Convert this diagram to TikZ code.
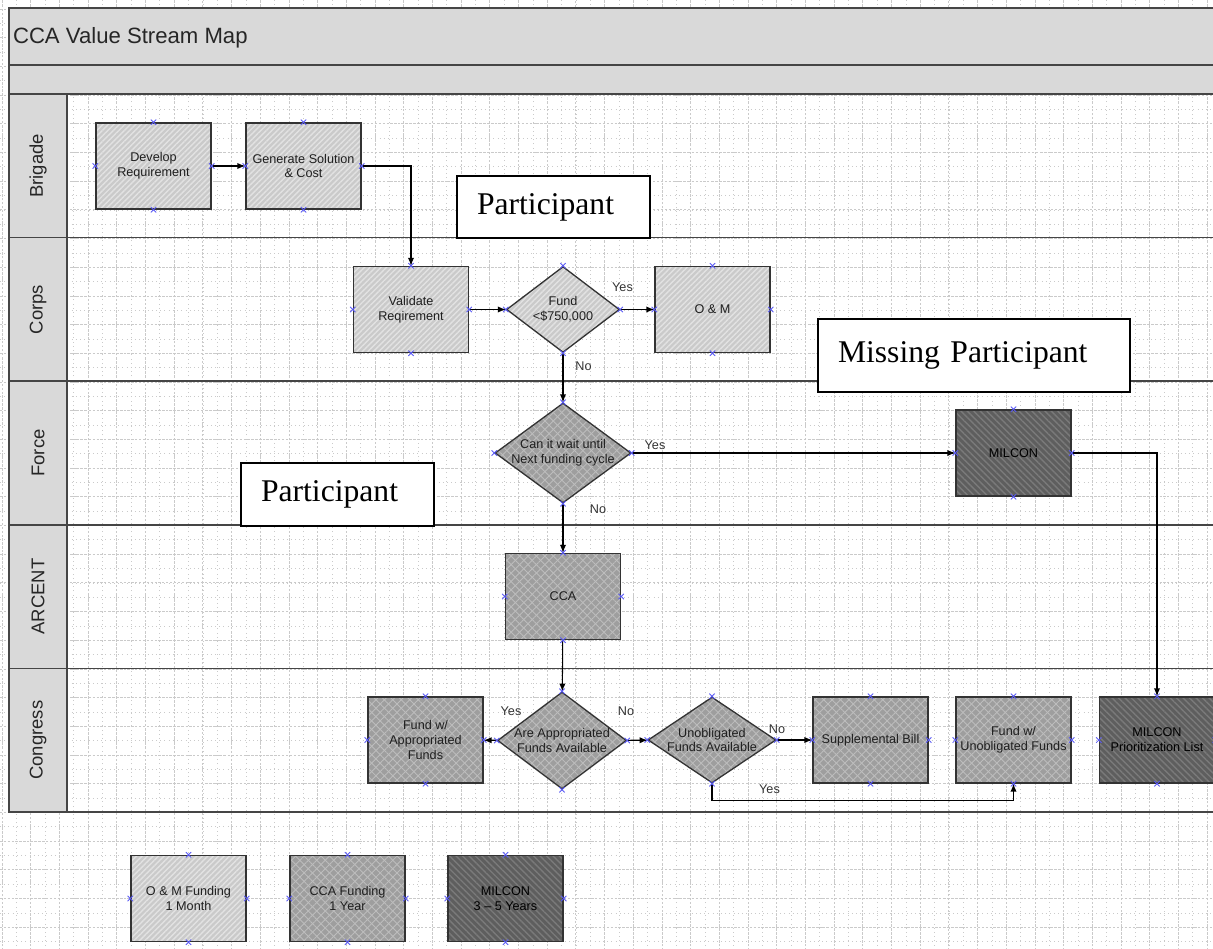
\documentclass[tikz,border=0pt]{standalone}
\usepackage{fontspec}
\setmainfont{Liberation Serif}
\setsansfont{Liberation Sans}
\usepackage{xcolor}
\usepackage{tikz}
\usetikzlibrary{arrows,arrows.meta,shapes,patterns,patterns.meta}
\definecolor{bandgray}{HTML}{D9D9D9}
\definecolor{lanegray}{HTML}{454545}
\definecolor{gridgray}{HTML}{CACACA}
\definecolor{lightfill}{HTML}{CACACA}
\definecolor{lighthatch}{HTML}{E2E2E2}
\definecolor{midfill}{HTML}{9E9E9E}
\definecolor{midhatch}{HTML}{BDBDBD}
\definecolor{darkfill}{HTML}{5E5E5E}
\definecolor{darkhatch}{HTML}{7A7A7A}
\definecolor{xblue}{HTML}{5A5AF5}
\tikzstyle{minorgrid}=[draw=gridgray, line width=0.4pt, dotted, step=0.287cm]
\tikzstyle{majorgrid}=[draw=gridgray, line width=0.5pt, dash pattern=on 1.2pt off 1pt, step=0.574cm]
\tikzstyle{lane}=[draw=lanegray, line width=0.85pt]
\tikzstyle{lanename}=[rotate=90, inner sep=0pt, text=black!85, font=\sffamily\fontsize{10.5}{12}\selectfont]
\tikzstyle{title}=[anchor=base west, inner sep=0pt, text=black!85, font=\sffamily\fontsize{12.6}{15}\selectfont]
\tikzstyle{vsd}=[draw=black!80, line width=0.75pt, text=black!88, font=\sffamily\fontsize{7.2}{8.5}\selectfont, align=center, inner sep=1pt]
\tikzstyle{omblk}=[vsd, rectangle, minimum width=2.3cm, minimum height=1.72cm,% light: O & M
preaction={fill=lightfill},
preaction={pattern={Lines[angle=45,distance=2.2pt,line width=0.8pt]}, pattern color=lighthatch}]
\tikzstyle{ccablk}=[vsd, rectangle, minimum width=2.3cm, minimum height=1.72cm,% medium: CCA
preaction={fill=midfill},
preaction={pattern={Lines[angle=45,distance=3.4pt,line width=0.5pt]}, pattern color=midhatch},
preaction={pattern={Lines[angle=-45,distance=3.4pt,line width=0.5pt]}, pattern color=midhatch}]
\tikzstyle{milblk}=[vsd, rectangle, text=black, minimum width=2.3cm, minimum height=1.72cm,% dark: MILCON
preaction={fill=darkfill},
preaction={pattern={Lines[angle=-45,distance=2.6pt,line width=0.8pt]}, pattern color=darkhatch}]
\tikzstyle{omdec}=[vsd, diamond, inner sep=0pt,
preaction={fill=lightfill},
preaction={pattern={Lines[angle=45,distance=2.2pt,line width=0.8pt]}, pattern color=lighthatch}]
\tikzstyle{ccadec}=[vsd, diamond, inner sep=0pt,
preaction={fill=midfill},
preaction={pattern={Lines[angle=45,distance=3.4pt,line width=0.5pt]}, pattern color=midhatch},
preaction={pattern={Lines[angle=-45,distance=3.4pt,line width=0.5pt]}, pattern color=midhatch}]
\tikzstyle{dectext}=[inner sep=0pt, text=black!88, align=center, font=\sffamily\fontsize{7.2}{8.5}\selectfont]
\tikzstyle{elabel}=[inner sep=0pt, text=black!80, font=\sffamily\fontsize{7.2}{8.5}\selectfont]
\tikzstyle{ptext}=[draw=black, line width=1.1pt, fill=white, inner xsep=0.4cm, align=left, font=\fontsize{18}{21}\selectfont]
\tikzstyle{xmk}=[cross out, draw=xblue, line width=0.5pt, minimum size=0.09cm, inner sep=0pt]
\newcommand{\conpts}[1]{%
\node[xmk] (#1-n) at (#1.north) {};
\node[xmk] (#1-s) at (#1.south) {};
\node[xmk] (#1-e) at (#1.east) {};
\node[xmk] (#1-w) at (#1.west) {};}

\begin{document}
\begin{tikzpicture}[x=0.02cm, y=-0.02cm, line width=0.6pt]
\useasboundingbox (0,0) rectangle (1213,949);
% grid paper
\begin{scope}[shift={(2,9)}]
\draw[minorgrid] (-2,-9) grid (1213,949);
\draw[majorgrid] (-2,-9) grid (1213,949);
\end{scope}
% pool and lanes
\draw[lane, fill=bandgray] (9,8) rectangle (1222,65);
\draw[lane, fill=bandgray] (9,65) rectangle (1222,94);
\draw[lane, fill=bandgray] (9,94) rectangle (67,812);
\draw[lane] (67,94) rectangle (1222,812);
\draw[lane] (9,237.6) -- (1222,237.6);
\draw[lane] (9,381.2) -- (1222,381.2);
\draw[lane] (9,524.8) -- (1222,524.8);
\draw[lane] (9,668.4) -- (1222,668.4);
\node[title] (title) at (12.5,43.3) {CCA Value Stream Map};
\node[lanename] (brigade) at (38,165.8) {Brigade};
\node[lanename] (corps) at (38,309.4) {Corps};
\node[lanename] (force) at (38,453) {Force};
\node[lanename] (arcent) at (38,596.6) {ARCENT};
\node[lanename] (congress) at (38,740.2) {Congress};
% Brigade
\node[omblk] (dev) at (153.5,166) {Develop\\Requirement};
\node[omblk] (gen) at (303.5,166) {Generate Solution\\\& Cost};
% Corps
\node[omblk] (val) at (411,309.5) {Validate\\Reqirement};
\node[omdec, minimum width=2.26cm, minimum height=1.72cm,
  label={[dectext]center:{Fund\\<\$750,000}}] (fund) at (563,309.5) {};
\node[omblk] (om) at (712.5,309.5) {O \& M};
% Force
\node[ccadec, minimum width=2.72cm, minimum height=2cm,
  label={[dectext]center:{Can it wait until\\Next funding cycle}}] (wait) at (563,453) {};
\node[milblk] (milcon) at (1013.5,453) {MILCON};
% ARCENT
\node[ccablk] (cca) at (563,596.5) {CCA};
% Congress
\node[ccablk] (fapp) at (425.5,740) {Fund w/\\Appropriated\\Funds};
\node[ccadec, minimum width=2.58cm, minimum height=1.94cm,
  label={[dectext]center:{Are Appropriated\\Funds Available}}] (appr) at (562,740.5) {};
\node[ccadec, minimum width=2.56cm, minimum height=1.72cm,
  label={[dectext]center:{Unobligated\\Funds Available}}] (unob) at (712,740) {};
\node[ccablk] (supp) at (870.5,740) {Supplemental Bill};
\node[ccablk] (funob) at (1013.5,740) {Fund w/\\Unobligated Funds};
\node[milblk] (mlist) at (1157,740) {MILCON\\Prioritization List};
% legend
\node[omblk] (legom) at (188.5,898.5) {O \& M Funding\\1 Month};
\node[ccablk] (legcca) at (347.5,898.5) {CCA Funding\\1 Year};
\node[milblk] (legmil) at (505.5,898.5) {MILCON\\3 – 5 Years};
% flow
\draw [-{latex[slant=0,scale=1.35]}]  (dev) -- (gen);
\draw [-{latex[slant=0,scale=1.35]}]  (gen.east) -| (val.north);
\draw [-{latex[slant=0,scale=1.35]}]  (val) -- (fund);
\draw [-{latex[slant=0,scale=1.35]}]  (fund) -- (om);
\draw [-{latex[slant=0,scale=1.35]}]  (fund) -- (wait);
\draw [-{latex[slant=0,scale=1.35]}]  (wait) -- (milcon);
\draw [-{latex[slant=0,scale=1.35]}]  (wait) -- (cca);
\draw [-{latex[slant=0,scale=1.35]}]  (milcon.east) -| (mlist.north);
\draw [-{latex[slant=0,scale=1.35]}]  (cca) -- (appr);
\draw [-{latex[slant=0,scale=1.35]}]  (appr) -- (fapp);
\draw [-{latex[slant=0,scale=1.35]}]  (appr) -- (unob);
\draw [-{latex[slant=0,scale=1.35]}]  (unob) -- (supp);
\draw [-{latex[slant=0,scale=1.35]}]  (unob.south) -- ++(0,17) -| (funob.south);
\node[elabel] (yes1) at (622.5,287) {Yes};
\node[elabel] (no1) at (583.5,366) {No};
\node[elabel] (yes2) at (655,445) {Yes};
\node[elabel] (no2) at (598,509) {No};
\node[elabel] (yes3) at (511,711) {Yes};
\node[elabel] (no3) at (626,711) {No};
\node[elabel] (no4) at (777,729) {No};
\node[elabel] (yes4) at (769.5,789) {Yes};
% connection points
\conpts{dev} \conpts{gen} \conpts{val} \conpts{fund} \conpts{om}
\conpts{wait} \conpts{milcon} \conpts{cca}
\conpts{fapp} \conpts{appr} \conpts{unob} \conpts{supp} \conpts{funob} \conpts{mlist}
\conpts{legom} \conpts{legcca} \conpts{legmil}
% notes
\node[ptext, text width=3.06cm, minimum height=1.24cm] (part1) at (553.5,207) {Participant};
\node[ptext, text width=3.06cm, minimum height=1.26cm] (part2) at (337.5,494.5) {Participant};
\node[ptext, text width=5.44cm, minimum height=1.46cm] (missing) at (974,355.5) {Missing Participant};
\end{tikzpicture}
\end{document}
